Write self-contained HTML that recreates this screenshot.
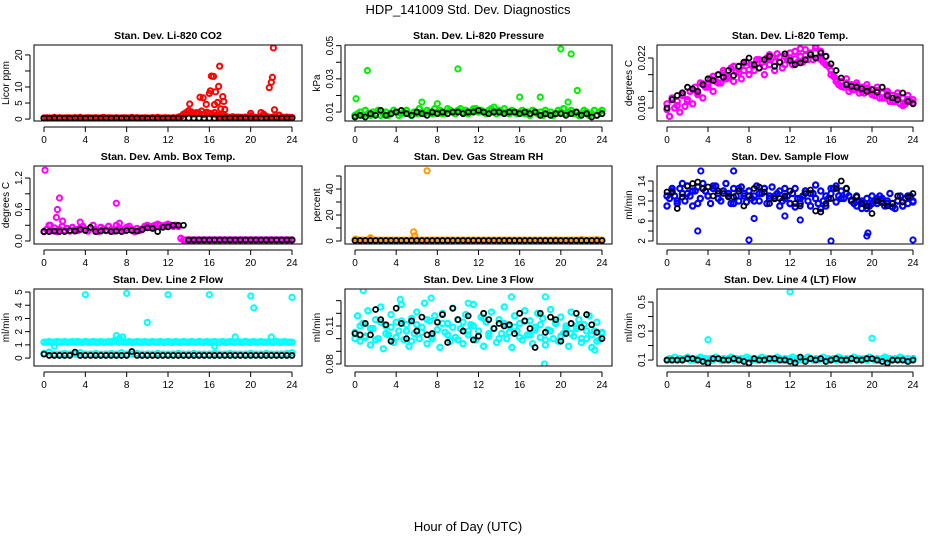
<!DOCTYPE html>
<html><head><meta charset="utf-8">
<style>
body{margin:0;background:#fff;}
svg{display:block;font-family:"Liberation Sans",sans-serif;}
</style></head>
<body>
<svg id="fig" width="936" height="540" viewBox="0 0 936 540">
<text x="468" y="14" font-size="13" text-anchor="middle">HDP_141009  Std. Dev. Diagnostics</text>
<text x="468" y="531" font-size="13" text-anchor="middle">Hour of Day (UTC)</text>
</svg>
<script>
// ---------- data arrays (main/black series evenly spaced over 0-24 h) ----------
const xTicks=[0,4,8,12,16,20,24];

const co2Main=[0.3,0.4,0.3,0.3,0.5,0.3,0.4,0.3,0.3,0.4,0.3,0.3,0.4,0.3,0.5,0.3,0.3,0.4,0.3,0.3,0.4,0.3,0.3,0.5,0.3,0.4,0.3,0.3,0.4,0.3,0.3,0.4,0.3,0.3,0.5,0.3,0.4,0.3,0.3,0.4,0.3,0.3,0.4,0.3,0.5,0.3,0.3,0.4,0.3,0.3,0.4,0.3,0.6,0.8,1.5,2.0,2.6,2.2,1.6,2.0,1.8,2.5,1.5,2.1,1.8,1.5,2.0,1.2,1.0,1.5,1.0,0.6,0.5,0.7,0.5,0.6,0.5,0.5,0.6,0.5,1.0,0.6,0.5,0.5,2.0,1.5,0.8,0.6,0.5,0.7,0.5,1.2,0.6,0.5,0.6,0.5,0.5];
const co2OutHours=[14.1,15.1,15.4,15.7,16.0,16.1,16.2,16.4,16.5,16.6,16.8,16.9,17.0,17.1,17.3,17.4,17.5,20.0,21.8,22.0,22.1,22.2,22.3];
const co2OutVals=[4.7,6.8,6.6,4.6,8.0,8.8,13.4,13.3,4.5,8.5,5.2,10.2,16.5,3.2,7.0,5.5,3.0,1.8,9.8,11.5,13.0,22.2,2.9];
const co2Black=[0.3,0.3,0.3,0.3,0.3,0.3,0.3,0.3,0.3,0.3,0.3,0.3,0.3,0.3,0.3,0.3,0.3,0.3,0.3,0.3,0.3,0.3,0.3,0.3,0.3,0.3,0.3,0.3,0.3,0.3,0.3,0.3,0.3,0.3,0.3,0.3,0.3,0.3,0.3,0.3,0.3,0.3,0.3,0.3,0.3,0.3,0.3,0.3,0.3];

const presMain=[0.008,0.009,0.010,0.008,0.011,0.009,0.008,0.010,0.009,0.011,0.008,0.009,0.010,0.008,0.009,0.011,0.010,0.008,0.009,0.010,0.011,0.009,0.008,0.010,0.009,0.012,0.010,0.009,0.011,0.010,0.009,0.012,0.010,0.011,0.009,0.010,0.012,0.011,0.010,0.009,0.011,0.012,0.010,0.011,0.009,0.010,0.011,0.012,0.010,0.011,0.010,0.009,0.011,0.012,0.010,0.009,0.011,0.010,0.012,0.010,0.009,0.011,0.010,0.009,0.010,0.011,0.009,0.010,0.008,0.011,0.010,0.009,0.010,0.008,0.011,0.009,0.010,0.008,0.009,0.011,0.010,0.012,0.009,0.010,0.011,0.009,0.010,0.008,0.009,0.011,0.010,0.008,0.009,0.011,0.008,0.010,0.011];
const presOutHours=[0.1,1.2,6.5,8.0,10.0,11.5,13.5,16.0,18.0,20.0,20.3,20.7,21.0,21.6];
const presOutVals=[0.018,0.035,0.016,0.015,0.036,0.012,0.013,0.019,0.019,0.048,0.012,0.016,0.045,0.023];
const presBlack=[0.007,0.008,0.007,0.009,0.008,0.011,0.008,0.009,0.010,0.011,0.009,0.008,0.010,0.009,0.008,0.010,0.009,0.010,0.009,0.010,0.010,0.009,0.010,0.010,0.011,0.010,0.009,0.010,0.010,0.009,0.010,0.010,0.009,0.010,0.009,0.010,0.008,0.009,0.008,0.009,0.009,0.008,0.009,0.010,0.008,0.009,0.007,0.008,0.009];

const tempMain=[.0165,.0150,.0172,.0160,.0168,.0155,.0175,.0162,.0170,.0180,.0165,.0185,.0178,.0190,.0172,.0185,.0188,.0195,.0180,.0192,.0200,.0190,.0205,.0195,.0198,.0208,.0192,.0203,.0210,.0195,.0205,.0215,.0200,.0212,.0205,.0218,.0208,.0215,.0200,.0220,.0212,.0220,.0205,.0225,.0215,.0208,.0222,.0218,.0220,.0212,.0228,.0215,.0222,.0215,.0230,.0218,.0225,.0218,.0232,.0220,.0228,.0215,.0222,.0210,.0205,.0198,.0195,.0188,.0192,.0185,.0195,.0180,.0188,.0182,.0190,.0178,.0185,.0178,.0188,.0180,.0182,.0175,.0185,.0172,.0178,.0172,.0180,.0168,.0175,.0168,.0178,.0165,.0172,.0165,.0175,.0168,.0170];
const tempMainB=[.0158,.0170,.0163,.0178,.0168,.0182,.0176,.0189,.0185,.0198,.0190,.0202,.0196,.0210,.0202,.0214,.0206,.0211,.0218,.0210,.0224,.0216,.0221,.0212,.0226,.0219,.0231,.0223,.0226,.0234,.0218,.0212,.0200,.0192,.0186,.0190,.0183,.0187,.0180,.0184,.0176,.0181,.0172,.0177,.0168,.0174,.0163,.0170,.0166];
const tempBlack=[.0160,.0170,.0175,.0178,.0185,.0183,.0180,.0188,.0195,.0193,.0200,.0197,.0205,.0199,.0210,.0215,.0220,.0212,.0208,.0218,.0222,.0210,.0215,.0225,.0217,.0212,.0214,.0218,.0224,.0220,.0226,.0222,.0213,.0205,.0196,.0188,.0186,.0185,.0183,.0180,.0182,.0179,.0185,.0175,.0172,.0170,.0178,.0168,.0165];

const ambMain=[0.18,0.22,0.30,0.20,0.25,0.18,0.22,0.28,0.20,0.24,0.19,0.26,0.22,0.20,0.25,0.28,0.22,0.19,0.24,0.30,0.21,0.18,0.26,0.23,0.20,0.28,0.22,0.19,0.30,0.24,0.22,0.20,0.26,0.28,0.22,0.18,0.24,0.20,0.22,0.28,0.30,0.26,0.28,0.30,0.32,0.30,0.28,0.30,0.32,0.30,0.28,0.30,0.28,0.05,0.02,0.02,0.02,0.02,0.02,0.02,0.02,0.02,0.02,0.02,0.02,0.02,0.02,0.02,0.02,0.02,0.02,0.02,0.02,0.02,0.02,0.02,0.02,0.02,0.02,0.02,0.02,0.02,0.02,0.02,0.02,0.02,0.02,0.02,0.02,0.02,0.02,0.02,0.02,0.02,0.02,0.02,0.02];
const ambOutHours=[0.1,0.6,1.2,1.3,1.5,1.8,3.5,7.0,7.3];
const ambOutVals=[1.35,0.30,0.45,0.60,0.82,0.38,0.36,0.72,0.34];
const ambBlack=[0.18,0.18,0.19,0.18,0.18,0.20,0.19,0.22,0.20,0.26,0.18,0.19,0.20,0.18,0.19,0.18,0.20,0.20,0.19,0.22,0.25,0.24,0.18,0.26,0.27,0.30,0.30,0.30,0.02,0.02,0.02,0.02,0.02,0.02,0.02,0.02,0.02,0.02,0.02,0.02,0.02,0.02,0.02,0.02,0.02,0.02,0.02,0.02,0.02];

const rhMain=[1.0,0.6,0.5,0.6,0.5,0.8,1.5,0.6,0.5,0.6,0.5,0.6,0.5,0.6,0.5,0.6,0.5,0.6,0.5,0.6,0.5,0.6,0.5,0.8,0.6,0.5,0.6,0.5,0.6,0.5,0.6,0.5,0.6,0.5,0.6,0.5,0.6,0.5,0.6,0.5,0.6,0.5,0.6,0.5,0.6,0.5,0.6,0.5,0.6,0.5,0.6,0.5,0.6,0.5,0.6,0.5,0.6,0.5,0.6,0.5,0.6,0.5,0.6,0.5,0.6,0.5,0.6,0.5,0.6,0.5,0.6,0.5,0.6,0.5,0.6,0.5,0.6,0.5,0.8,0.6,0.5,0.6,0.5,0.6,0.5,0.6,0.5,0.6,1.0,0.6,0.5,0.6,0.5,0.6,1.0,0.6,0.5];
const rhOutHours=[0.1,0.2,1.5,5.7,5.8,7.0];
const rhOutVals=[1.5,0.8,2.5,7.0,4.0,54.0];
const rhBlack=[0.4,0.4,0.4,0.4,0.4,0.4,0.4,0.4,0.4,0.4,0.4,0.4,0.4,0.4,0.4,0.4,0.4,0.4,0.4,0.4,0.4,0.4,0.4,0.4,0.4,0.4,0.4,0.4,0.4,0.4,0.4,0.4,0.4,0.4,0.4,0.4,0.4,0.4,0.4,0.4,0.4,0.4,0.4,0.4,0.4,0.4,0.4,0.4,0.4];

const flowMain=[9.0,10.5,12.0,11.0,9.5,12.5,11.5,10.0,13.0,11.0,9.0,12.0,12.8,10.5,13.5,12.0,11.0,9.5,12.5,13.0,11.5,10.0,12.0,13.5,11.0,9.5,12.5,11.0,10.0,12.8,11.5,9.8,12.0,10.5,11.0,13.0,10.0,11.5,12.5,9.5,11.0,12.8,10.5,11.5,12.0,10.0,12.5,11.0,9.5,11.5,12.5,10.5,9.5,11.0,12.0,10.0,9.0,11.5,10.5,9.5,8.5,10.0,9.0,10.5,11.5,12.5,13.0,11.0,12.0,10.5,12.5,11.0,10.0,9.5,11.0,10.0,8.5,9.5,10.5,9.0,11.0,10.0,9.5,11.0,10.5,9.0,10.0,11.5,9.5,8.5,10.0,11.0,9.0,10.5,9.5,11.0,10.0];
const flowMainB=[11.0,12.5,10.0,13.5,11.5,12.0,9.5,12.5,11.0,13.0,10.5,12.0,11.5,9.5,12.5,11.0,12.0,10.0,11.5,12.5,10.5,11.0,9.0,10.5,9.5,8.8,10.5,12.0,11.5,13.2,12.0,11.0,12.5,9.8,10.5,11.5,10.0,9.0,10.0,8.5,9.5,10.5,10.0,9.5,8.8,10.0,9.0,11.0,9.8];
const flowOutHours=[3.0,3.3,6.5,8.0,8.5,11.5,13.0,16.0,19.5,19.6,24.0];
const flowOutVals=[4.0,16.0,16.0,2.2,6.5,7.0,6.2,2.0,3.0,3.6,2.2];
const flowBlack=[11.8,11.7,8.5,10.8,13.0,13.5,13.8,12.5,12.8,11.0,12.0,11.5,10.8,10.8,12.0,9.0,11.0,12.5,12.8,11.8,9.5,10.5,10.5,11.0,12.0,9.5,9.0,11.5,12.2,8.0,7.8,9.5,10.5,12.5,14.0,12.5,10.2,10.8,9.5,9.0,7.5,10.0,9.6,9.0,9.5,11.0,9.8,10.8,11.5];

const line2Main=[1.2,1.2,1.25,1.2,1.2,1.25,1.2,1.2,1.25,1.2,1.2,1.25,1.2,1.25,1.2,1.2,1.25,1.2,1.2,1.25,1.2,1.2,1.25,1.2,1.2,1.25,1.2,1.3,1.25,1.2,1.25,1.2,1.2,1.25,1.2,1.2,1.25,1.2,1.2,1.25,1.2,1.2,1.25,1.2,1.2,1.25,1.2,1.2,1.25,1.2,1.2,1.25,1.2,1.2,1.25,1.2,1.2,1.25,1.2,1.2,1.25,1.2,1.2,1.25,1.2,1.2,1.25,1.2,1.2,1.25,1.2,1.2,1.25,1.2,1.2,1.25,1.2,1.2,1.25,1.2,1.2,1.25,1.2,1.2,1.25,1.2,1.2,1.25,1.2,1.2,1.25,1.2,1.2,1.25,1.2,1.2,1.2];
const line2Low=[0.35,0.45,0.3,0.3,0.35,0.3,0.3,0.4,0.3,0.3,0.35,0.3,0.3,0.35,0.3,0.4,0.3,0.3,0.35,0.3,0.3,0.3,0.35,0.3,0.3,0.3,0.35,0.3,0.3,0.35,0.3,0.3,0.3,0.35,0.3,0.3,0.35,0.3,0.3,0.3,0.35,0.3,0.3,0.35,0.3,0.3,0.3,0.35,0.4];
const line2OutHours=[4.0,8.0,12.0,16.0,20.0,20.3,24.0,10.0,7.0,7.3,7.6,18.5,22.0,1.0,16.5];
const line2OutVals=[4.8,4.9,4.8,4.8,4.7,3.8,4.6,2.7,1.7,1.5,1.6,1.6,1.6,0.9,0.9];
const line2Black=[0.3,0.2,0.2,0.2,0.2,0.2,0.45,0.2,0.2,0.2,0.2,0.2,0.2,0.2,0.2,0.2,0.2,0.5,0.2,0.2,0.2,0.2,0.2,0.2,0.2,0.2,0.2,0.2,0.2,0.2,0.2,0.2,0.2,0.2,0.2,0.2,0.2,0.2,0.2,0.2,0.2,0.2,0.2,0.2,0.2,0.2,0.2,0.2,0.2];

const line3Main=[0.105,0.118,0.098,0.112,0.101,0.122,0.095,0.108,0.115,0.100,0.125,0.092,0.110,0.103,0.119,0.097,0.113,0.106,0.127,0.099,0.111,0.094,0.116,0.104,0.121,0.100,0.109,0.128,0.096,0.114,0.102,0.118,0.107,0.093,0.120,0.105,0.112,0.098,0.124,0.101,0.115,0.108,0.096,0.119,0.103,0.111,0.127,0.099,0.106,0.117,0.094,0.113,0.102,0.121,0.108,0.097,0.115,0.104,0.125,0.100,0.110,0.093,0.118,0.106,0.112,0.099,0.122,0.103,0.114,0.096,0.109,0.120,0.101,0.116,0.095,0.107,0.123,0.100,0.112,0.098,0.117,0.104,0.110,0.094,0.121,0.102,0.108,0.115,0.097,0.111,0.100,0.118,0.093,0.106,0.113,0.099,0.104];
const line3MainB=[0.100,0.110,0.102,0.108,0.099,0.113,0.104,0.109,0.101,0.114,0.106,0.098,0.111,0.105,0.115,0.100,0.107,0.112,0.103,0.109,0.099,0.113,0.106,0.110,0.102,0.116,0.104,0.108,0.100,0.112,0.105,0.109,0.101,0.114,0.103,0.107,0.111,0.099,0.106,0.113,0.102,0.108,0.104,0.110,0.100,0.106,0.103,0.098,0.105];
const line3OutHours=[0.8,7.4,11.0,15.2,18.4,18.5,23.3,4.4];
const line3OutVals=[0.138,0.132,0.128,0.133,0.080,0.133,0.091,0.131];
const line3Black=[0.104,0.103,0.112,0.103,0.123,0.115,0.111,0.098,0.124,0.112,0.100,0.114,0.106,0.117,0.103,0.104,0.113,0.119,0.097,0.124,0.115,0.106,0.118,0.099,0.102,0.120,0.115,0.108,0.112,0.110,0.111,0.104,0.120,0.114,0.108,0.093,0.120,0.105,0.117,0.115,0.098,0.104,0.112,0.120,0.109,0.119,0.111,0.105,0.100];

const line4Main=[0.10,0.11,0.10,0.12,0.10,0.11,0.10,0.11,0.12,0.10,0.11,0.10,0.11,0.12,0.10,0.11,0.10,0.11,0.10,0.12,0.11,0.10,0.11,0.10,0.11,0.12,0.10,0.11,0.10,0.11,0.10,0.12,0.11,0.10,0.11,0.10,0.11,0.12,0.10,0.11,0.10,0.11,0.10,0.12,0.11,0.10,0.11,0.10,0.11,0.12,0.10,0.11,0.10,0.11,0.10,0.12,0.11,0.10,0.11,0.10,0.11,0.12,0.10,0.11,0.10,0.11,0.10,0.12,0.11,0.10,0.11,0.10,0.11,0.12,0.10,0.11,0.10,0.11,0.10,0.12,0.11,0.10,0.11,0.10,0.11,0.12,0.10,0.11,0.10,0.11,0.10,0.12,0.11,0.10,0.11,0.10,0.11];
const line4OutHours=[4.0,12.0,20.0];
const line4OutVals=[0.24,0.57,0.25];
const line4Black=[0.10,0.10,0.10,0.10,0.11,0.11,0.10,0.09,0.08,0.11,0.11,0.10,0.10,0.11,0.10,0.09,0.08,0.11,0.10,0.10,0.11,0.11,0.10,0.10,0.09,0.08,0.12,0.09,0.11,0.10,0.11,0.09,0.10,0.11,0.10,0.10,0.11,0.10,0.10,0.11,0.11,0.10,0.09,0.08,0.10,0.10,0.10,0.09,0.10];

// y tick values & which get labels
const co2Ticks=[0,5,10,15,20], co2Labels=["0","5","10","","20"];
const presTicks=[0.01,0.02,0.03,0.04,0.05], presLabels=["0.01","","0.03","","0.05"];
const tempTicks=[0.016,0.018,0.020,0.022], tempLabels=["0.016","","","0.022"];
const ambTicks=[0,0.3,0.6,0.9,1.2], ambLabels=["0.0","","0.6","","1.2"];
const rhTicks=[0,10,20,30,40,50], rhLabels=["0","","20","","40",""];
const flowTicks=[2,4,6,8,10,12,14], flowLabels=["2","","6","","10","","14"];
const line2Ticks=[0,1,2,3,4,5], line2Labels=["0","1","2","3","4","5"];
const line3Ticks=[0.08,0.09,0.10,0.11,0.12,0.13], line3Labels=["0.08","","","0.11","",""];
const line4Ticks=[0.1,0.2,0.3,0.4,0.5], line4Labels=["0.1","","0.3","","0.5"];

// ---------- layout ----------
const NS="http://www.w3.org/2000/svg";
const svg=document.getElementById('fig');
const cols=[[34,302],[345,612],[657,923]];
const rows=[[45,121],[166,244],[289,366]];

function mk(tag,attrs,parent){
  const e=document.createElementNS(NS,tag);
  for(const k in attrs)e.setAttribute(k,attrs[k]);
  (parent||svg).appendChild(e);return e;
}

const panels=[
 {key:'co2',title:'Stan. Dev. Li-820 CO2',ylab:'Licor ppm',c:0,r:0,lo:-0.6,hi:23.1,color:'#ff0000',main:[co2Main],outH:co2OutHours,outV:co2OutVals,black:co2Black,ticks:co2Ticks,labels:co2Labels},
 {key:'pressure',title:'Stan. Dev. Li-820 Pressure',ylab:'kPa',c:1,r:0,lo:0.0046,hi:0.0504,color:'#00ee00',main:[presMain],outH:presOutHours,outV:presOutVals,black:presBlack,ticks:presTicks,labels:presLabels},
 {key:'temp',title:'Stan. Dev. Li-820 Temp.',ylab:'degrees C',c:2,r:0,lo:0.01444,hi:0.02356,color:'#ff00ff',main:[tempMain,tempMainB],outH:[],outV:[],black:tempBlack,ticks:tempTicks,labels:tempLabels},
 {key:'amb-temp',title:'Stan. Dev. Amb. Box Temp.',ylab:'degrees C',c:0,r:1,lo:-0.057,hi:1.43,color:'#ff00ff',main:[ambMain],outH:ambOutHours,outV:ambOutVals,black:ambBlack,ticks:ambTicks,labels:ambLabels},
 {key:'rh',title:'Stan. Dev. Gas Stream RH',ylab:'percent',c:1,r:1,lo:-2.3,hi:57.7,color:'#ff9900',main:[rhMain],outH:rhOutHours,outV:rhOutVals,black:rhBlack,ticks:rhTicks,labels:rhLabels},
 {key:'sample-flow',title:'Stan. Dev. Sample Flow',ylab:'ml/min',c:2,r:1,lo:1.4,hi:17,color:'#0000ff',main:[flowMain,flowMainB],outH:flowOutHours,outV:flowOutVals,black:flowBlack,ticks:flowTicks,labels:flowLabels},
 {key:'line2',title:'Stan. Dev. Line 2 Flow',ylab:'ml/min',c:0,r:2,lo:-0.6,hi:5.23,color:'#00ffff',main:[line2Main,line2Low],outH:line2OutHours,outV:line2OutVals,black:line2Black,ticks:line2Ticks,labels:line2Labels},
 {key:'line3',title:'Stan. Dev. Line 3 Flow',ylab:'ml/min',c:1,r:2,lo:0.0784,hi:0.1392,color:'#00ffff',main:[line3Main,line3MainB],outH:line3OutHours,outV:line3OutVals,black:line3Black,ticks:line3Ticks,labels:line3Labels},
 {key:'line4',title:'Stan. Dev. Line 4 (LT) Flow',ylab:'ml/min',c:2,r:2,lo:0.059,hi:0.59,color:'#00ffff',main:[line4Main],outH:line4OutHours,outV:line4OutVals,black:line4Black,ticks:line4Ticks,labels:line4Labels}
];

panels.forEach(p=>{
  const [L,R]=cols[p.c], [T,B]=rows[p.r];
  const x0=L+10, x1=R-10;
  const xs=h=>x0+(h/24)*(x1-x0);
  const ys=v=>B-(v-p.lo)/(p.hi-p.lo)*(B-T);
  const g=mk('g',{});
  
  
  const clip=mk('clipPath',{id:'clip-'+p.key},g);
  mk('rect',{x:L,y:T,width:R-L,height:B-T},clip);
  const t=mk('text',{x:(L+R)/2,y:T-6,'font-size':10.5,'font-weight':'bold','text-anchor':'middle'},g);
  t.textContent=p.title;
  
  
  const xa=mk('g',{},g);
  
  
  mk('line',{x1:xs(xTicks[0]),x2:xs(xTicks[xTicks.length-1]),y1:B+6,y2:B+6,stroke:'#000','stroke-width':1},xa);
  xTicks.forEach(h=>{
    mk('line',{x1:xs(h),x2:xs(h),y1:B+6,y2:B+11,stroke:'#000','stroke-width':1},xa);
    const tl=mk('text',{x:xs(h),y:B+22,'font-size':10,'text-anchor':'middle'},xa);
    tl.textContent=h;
    
    
  });
  const ya=mk('g',{},g);
  
  
  mk('line',{x1:L-4,x2:L-4,y1:ys(p.ticks[0]),y2:ys(p.ticks[p.ticks.length-1]),stroke:'#000','stroke-width':1},ya);
  p.ticks.forEach((v,i)=>{
    mk('line',{x1:L-9,x2:L-4,y1:ys(v),y2:ys(v),stroke:'#000','stroke-width':1},ya);
    if(p.labels[i]){
      const yl=mk('text',{x:0,y:0,'font-size':10,'text-anchor':'middle',transform:`translate(${L-12},${ys(v)}) rotate(-90)`},ya);
      yl.textContent=p.labels[i];
      
      
    }
  });
  const yt=mk('text',{x:0,y:0,'font-size':10,'text-anchor':'middle',transform:`translate(${L-25},${(T+B)/2}) rotate(-90)`},g);
  yt.textContent=p.ylab;
  
  
  const pts=mk('g',{'clip-path':`url(#clip-${p.key})`,fill:'none'},g);
  
  
  p.main.forEach(arr=>{
    arr.forEach((v,i)=>{
      const h=i*24/(arr.length-1);
      const c=mk('circle',{cx:xs(h),cy:ys(v),r:2.6,stroke:p.color,'stroke-width':2.2},pts);
      
      
    });
  });
  p.outH.forEach((h,i)=>{
    const c=mk('circle',{cx:xs(h),cy:ys(p.outV[i]),r:2.6,stroke:p.color,'stroke-width':2},pts);
    
    
  });
  p.black.forEach((v,i)=>{
    const h=i*24/(p.black.length-1);
    const c=mk('circle',{cx:xs(h),cy:ys(v),r:2.5,stroke:'#000','stroke-width':1.8},pts);
    
    
  });
  mk('rect',{x:L,y:T,width:R-L,height:B-T,fill:'none',stroke:'#000','stroke-width':1},g);
});
</script>
</body></html>
